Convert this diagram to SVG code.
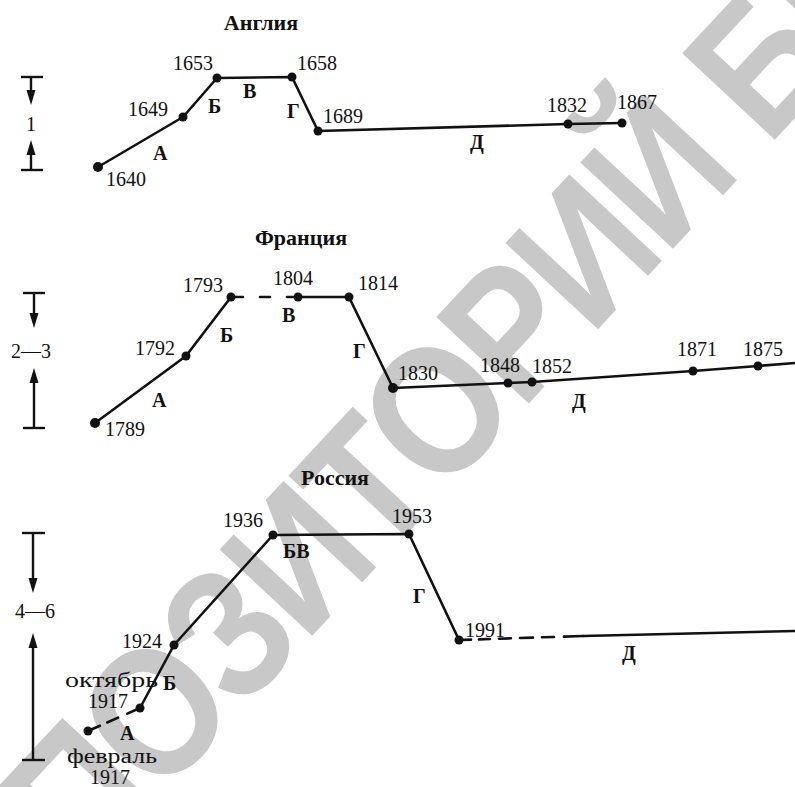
<svg xmlns="http://www.w3.org/2000/svg" width="795" height="787" viewBox="0 0 795 787">
<defs>
<style>
.yr{font-family:"Liberation Serif","Times New Roman",serif;font-size:20px;fill:#111}
.lt{font-family:"Liberation Serif","Times New Roman",serif;font-size:20px;font-weight:bold;fill:#111}
.ttl{font-family:"Liberation Serif","Times New Roman",serif;font-size:22px;font-weight:bold;fill:#111;text-anchor:middle}
.ln{fill:none;stroke:#111;stroke-width:2.6;stroke-linejoin:round;stroke-linecap:round}
.sc{fill:none;stroke:#111;stroke-width:2.4}
.dot{fill:#111}
.wm{font-family:"Liberation Sans",Arial,sans-serif;font-size:184px;font-weight:bold;letter-spacing:-6px;fill:#c8c8c8}
</style>
</defs>
<rect width="795" height="787" fill="#fff"/>
<g id="watermark" transform="translate(440,396) rotate(-47) scale(0.87,1)">
<text class="wm" x="-920" y="70">РЕПОЗИТОРИЙ БГПУ</text>
</g>

<g id="scales">
<g id="scale-1">
<line class="sc" x1="21" y1="77" x2="43" y2="77"/>
<line class="sc" x1="31" y1="77" x2="31" y2="92"/>
<path class="dot" d="M26.5,90 L35.5,90 L31,105 z"/>
<text class="yr" x="31" y="131" text-anchor="middle">1</text>
<path class="dot" d="M26.5,155 L35.5,155 L31,140 z"/>
<line class="sc" x1="31" y1="153" x2="31" y2="170"/>
<line class="sc" x1="21" y1="170" x2="43" y2="170"/>
</g>
<g id="scale-2">
<line class="sc" x1="23" y1="293" x2="45" y2="293"/>
<line class="sc" x1="34" y1="293" x2="34" y2="315"/>
<path class="dot" d="M29.5,313 L38.5,313 L34,328 z"/>
<text class="yr" x="31" y="358" text-anchor="middle">2—3</text>
<path class="dot" d="M29.5,383 L38.5,383 L34,368 z"/>
<line class="sc" x1="34" y1="381" x2="34" y2="428"/>
<line class="sc" x1="23" y1="428" x2="45" y2="428"/>
</g>
<g id="scale-3">
<line class="sc" x1="22" y1="533" x2="45" y2="533"/>
<line class="sc" x1="33" y1="533" x2="33" y2="580"/>
<path class="dot" d="M28.5,578 L37.5,578 L33,593 z"/>
<text class="yr" x="35" y="618" text-anchor="middle">4—6</text>
<path class="dot" d="M28.5,648 L37.5,648 L33,633 z"/>
<line class="sc" x1="33" y1="646" x2="33" y2="760"/>
<line class="sc" x1="22" y1="760" x2="45" y2="760"/>
</g>
</g>

<g id="connectors">
<polyline class="ln" points="98,167 183,117 217,78 292,77 318,131 568,124 622,123"/>
<polyline class="ln" points="95,423 186,356 231,297"/>
<line class="ln" x1="231" y1="297" x2="298" y2="297" stroke-dasharray="12 17 10 17 12" stroke-linecap="butt"/>
<polyline class="ln" points="298,297 349,297 393,388 508,383 532,382 693,371 758,366 795,363"/>
<line class="ln" x1="88" y1="731" x2="140" y2="708" stroke-dasharray="13 8 12 10 14" stroke-linecap="butt"/>
<polyline class="ln" points="140,708 174,645 273,535 409,534 459,640"/>
<line class="ln" x1="459" y1="640" x2="583" y2="636" stroke-dasharray="12 8 11 9 12 9 13 9 12 10 20" stroke-linecap="butt"/>
<line class="ln" x1="583" y1="636" x2="795" y2="631"/>
</g>

<g id="england">
<text id="t-england" class="ttl" x="261" y="30">Англия</text>
<g id="n1640"><circle class="dot" cx="98" cy="167" r="5"/><text class="yr" x="106" y="186">1640</text></g>
<g id="n1649"><circle class="dot" cx="183" cy="117" r="4.5"/><text class="yr" x="128" y="116">1649</text></g>
<g id="n1653"><circle class="dot" cx="217" cy="78" r="4.5"/><text class="yr" x="173" y="70">1653</text></g>
<g id="n1658"><circle class="dot" cx="292" cy="77" r="4.5"/><text class="yr" x="297" y="70">1658</text></g>
<g id="n1689"><circle class="dot" cx="318" cy="131" r="4.5"/><text class="yr" x="323" y="123">1689</text></g>
<g id="n1832"><circle class="dot" cx="568" cy="124" r="4.5"/><text class="yr" x="547" y="112">1832</text></g>
<g id="n1867"><circle class="dot" cx="622" cy="123" r="4.5"/><text class="yr" x="617" y="109">1867</text></g>
<g id="e-labels">
<text class="lt" x="153" y="160">А</text>
<text class="lt" x="208" y="113">Б</text>
<text class="lt" x="243" y="98">В</text>
<text class="lt" x="287" y="118">Г</text>
<text class="lt" x="470" y="149">Д</text>
</g>
</g>

<g id="france">
<text id="t-france" class="ttl" x="301" y="245">Франция</text>
<g id="n1789"><circle class="dot" cx="95" cy="423" r="5"/><text class="yr" x="105" y="436">1789</text></g>
<g id="n1792"><circle class="dot" cx="186" cy="356" r="4.5"/><text class="yr" x="135" y="355">1792</text></g>
<g id="n1793"><circle class="dot" cx="231" cy="297" r="4.5"/><text class="yr" x="183" y="292">1793</text></g>
<g id="n1804"><circle class="dot" cx="298" cy="297" r="4.5"/><text class="yr" x="273" y="285">1804</text></g>
<g id="n1814"><circle class="dot" cx="349" cy="297" r="4.5"/><text class="yr" x="358" y="290">1814</text></g>
<g id="n1830"><circle class="dot" cx="393" cy="388" r="5"/><text class="yr" x="398" y="380">1830</text></g>
<g id="n1848"><circle class="dot" cx="508" cy="383" r="4.5"/><text class="yr" x="480" y="372">1848</text></g>
<g id="n1852"><circle class="dot" cx="532" cy="382" r="4.5"/><text class="yr" x="532" y="373">1852</text></g>
<g id="n1871"><circle class="dot" cx="693" cy="371" r="4.5"/><text class="yr" x="677" y="356">1871</text></g>
<g id="n1875"><circle class="dot" cx="758" cy="366" r="4.5"/><text class="yr" x="743" y="356">1875</text></g>
<g id="f-labels">
<text class="lt" x="152" y="407">А</text>
<text class="lt" x="220" y="342">Б</text>
<text class="lt" x="282" y="322">В</text>
<text class="lt" x="353" y="358">Г</text>
<text class="lt" x="572" y="408">Д</text>
</g>
</g>

<g id="russia">
<text id="t-russia" class="ttl" x="335" y="485">Россия</text>
<g id="n-feb1917"><circle class="dot" cx="88" cy="731" r="4.5"/><text class="yr" x="67" y="763" textLength="90" lengthAdjust="spacingAndGlyphs">февраль</text><text class="yr" x="90" y="784">1917</text></g>
<g id="n-oct1917"><circle class="dot" cx="140" cy="708" r="4.5"/><text class="yr" x="65" y="687" textLength="93" lengthAdjust="spacingAndGlyphs">октябрь</text><text class="yr" x="88" y="708">1917</text></g>
<g id="n1924"><circle class="dot" cx="174" cy="645" r="4.5"/><text class="yr" x="122" y="648">1924</text></g>
<g id="n1936"><circle class="dot" cx="273" cy="535" r="4.5"/><text class="yr" x="223" y="527">1936</text></g>
<g id="n1953"><circle class="dot" cx="409" cy="534" r="4.5"/><text class="yr" x="392" y="523">1953</text></g>
<g id="n1991"><circle class="dot" cx="459" cy="640" r="4.5"/><text class="yr" x="465" y="637">1991</text></g>
<g id="r-labels">
<text class="lt" x="120" y="740">А</text>
<text class="lt" x="163" y="690">Б</text>
<text class="lt" x="283" y="558">БВ</text>
<text class="lt" x="413" y="603">Г</text>
<text class="lt" x="622" y="660">Д</text>
</g>
</g>
</svg>
